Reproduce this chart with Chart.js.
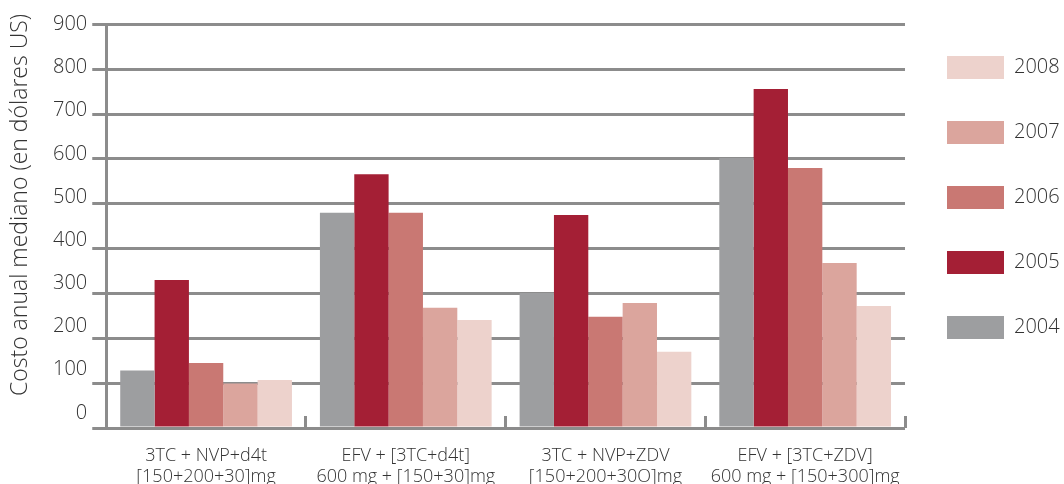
<!DOCTYPE html>
<html>
<head>
<meta charset="utf-8">
<script src="https://cdn.jsdelivr.net/npm/chart.js@4.4.0/dist/chart.umd.min.js"></script>
<style>
  html, body { margin: 0; padding: 0; background: #fff; }
  canvas { display: block; }
</style>
</head>
<body>
<canvas id="costos"></canvas>
<script>
// categorias (dos lineas cada una)
var categorias = [
    ['3TC + NVP+d4t', '[150+200+30]mg'],
    ['EFV + [3TC+d4t]', '600 mg + [150+30]mg'],
    ['3TC + NVP+ZDV', '[150+200+30O]mg'],
    ['EFV + [3TC+ZDV]', '600 mg + [150+300]mg']
];
var anios = ['2004', '2005', '2006', '2007', '2008'];

// costo anual mediano, USD
var costo2004 = [128, 480, 301, 602];
var costo2005 = [330, 566, 475, 756];
var costo2006 = [145, 480, 248, 580];
var costo2007 = [99, 268, 279, 368];
var costo2008 = [107, 241, 170, 272];

var ticksY = [0, 100, 200, 300, 400, 500, 600, 700, 800, 900];

var colores = ['#9d9ea0', '#a41f35', '#c97873', '#dba59d', '#edd2cc'];
var gris = '#8c8c8c';

function Costos()
{
    var canvas = document.getElementById('costos');
    canvas.width = 1064;
    canvas.height = 484;

    Chart.defaults.font.family = "'Open Sans', 'Noto Sans', sans-serif";
    Chart.defaults.font.weight = 300;
    Chart.defaults.color = '#333';

    var series = [costo2004, costo2005, costo2006, costo2007, costo2008];
    var datasets = series.map(function(d, i) {
        return {
            label: anios[i],
            data: d,
            backgroundColor: colores[i],
            borderWidth: 0,
            barPercentage: 1,
            categoryPercentage: 0.86
        };
    });

    var fijarTicks = function(scale) {
        scale.ticks = ticksY.map(function(v) { return { value: v }; });
    };

    new Chart(canvas, {
        type: 'bar',
        data: { labels: categorias, datasets: datasets },
        options: {
            responsive: false,
            animation: false,
            layout: { padding: { top: 14, left: 0, right: 0, bottom: -32.4 } },
            plugins: {
                tooltip: { enabled: false },
                title: {
                    display: true,
                    position: 'left',
                    align: 'end',
                    text: 'Costo anual mediano (en dólares US)',
                    color: '#333',
                    font: { size: 23, weight: 300 },
                    padding: { top: 6.2, bottom: 14.2 }
                },
                legend: {
                    position: 'right',
                    align: 'start',
                    reverse: true,
                    maxWidth: 159,
                    labels: {
                        boxWidth: 57,
                        boxHeight: 23,
                        padding: 42,
                        color: '#333',
                        font: { size: 20 }
                    }
                }
            },
            scales: {
                x: {
                    grid: { drawOnChartArea: false, tickLength: -12, color: gris, lineWidth: 3 },
                    border: { display: false },
                    ticks: {
                        color: '#333',
                        font: { size: 18, lineHeight: 1.15 },
                        padding: 29.5,
                        maxRotation: 0,
                        autoSkip: false
                    }
                },
                // lineas de la cuadricula
                y: {
                    position: 'left',
                    weight: 0,
                    min: 0,
                    max: 900,
                    afterBuildTicks: fijarTicks,
                    grid: { color: gris, lineWidth: 3, tickLength: 14 },
                    border: { display: true, color: gris, width: 3 },
                    ticks: { display: false }
                },
                // etiquetas del eje (algo desplazadas respecto a las lineas)
                etiquetas: {
                    type: 'linear',
                    position: 'left',
                    weight: 1,
                    min: -35,
                    max: 900,
                    afterBuildTicks: fijarTicks,
                    grid: { display: false, drawTicks: false },
                    border: { display: false },
                    ticks: { color: '#333', font: { size: 20, lineHeight: 1.94 }, padding: 5 }
                }
            }
        }
    });
}
Costos();
</script>
</body>
</html>
